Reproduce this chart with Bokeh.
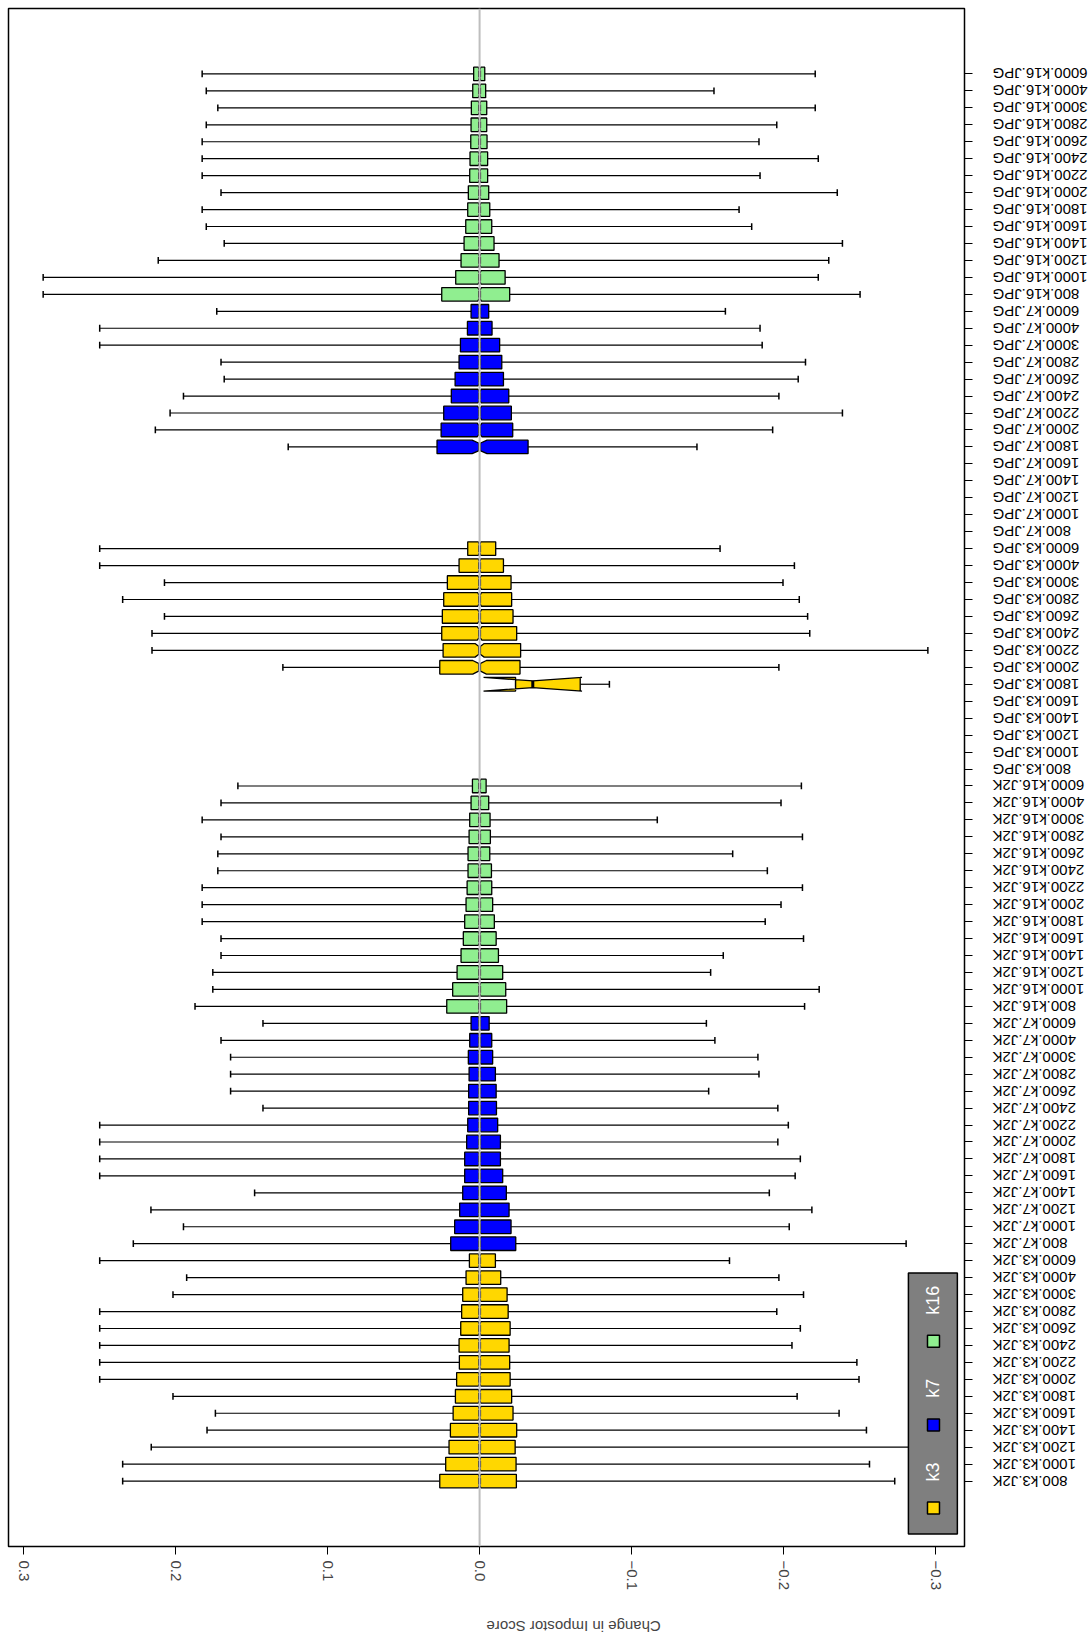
import math
from bokeh.plotting import figure
from bokeh.layouts import row
from bokeh.models import Range1d, FixedTicker, Span, ColumnDataSource
from bokeh.core.properties import value
from bokeh.embed import file_html
from bokeh.resources import INLINE

# ---------------- data ----------------
sizes = [800, 1000, 1200, 1400, 1600, 1800, 2000, 2200, 2400, 2600, 2800, 3000, 4000, 6000]
kvals = ["k3", "k7", "k16"]
formats = ["J2K", "JPG"]
group_colors = {"k3": "#FFD700", "k7": "#0000FF", "k16": "#90EE90"}
x_ticks = [-0.3, -0.2, -0.1, 0.0, 0.1, 0.2, 0.3]
x_tick_labels = ["\u22120.3", "\u22120.2", "\u22120.1", "0.0", "0.1", "0.2", "0.3"]
legend_labels = ["k3", "k7", "k16"]
N = None

# order of rows: J2K k3, J2K k7, J2K k16, JPG k3, JPG k7, JPG k16 (sizes 800 ... 6000)
upper_whisker = [
    0.2348, 0.2348, 0.2160, 0.1793, 0.1738, 0.2017, 0.2499, 0.2499, 0.2499, 0.2499, 0.2499, 0.2017, 0.1927, 0.2499,
    0.2278, 0.1948, 0.2162, 0.1480, 0.2499, 0.2499, 0.2499, 0.2499, 0.1425, 0.1638, 0.1638, 0.1638, 0.1701, 0.1425,
    0.1872, 0.1755, 0.1755, 0.1701, 0.1701, 0.1825, 0.1825, 0.1825, 0.1722, 0.1722, 0.1701, 0.1825, 0.1701, 0.1590,
    N, N, N, N, N, -0.0237, 0.1294, 0.2155, 0.2155, 0.2073, 0.2348, 0.2073, 0.2499, 0.2499,
    N, N, N, N, N, 0.1259, 0.2133, 0.2036, 0.1948, 0.1680, 0.1701, 0.2499, 0.2499, 0.1729,
    0.2871, 0.2871, 0.2114, 0.1680, 0.1798, 0.1825, 0.1701, 0.1825, 0.1825, 0.1825, 0.1798, 0.1722, 0.1798, 0.1825,
]
upper_hinge = [
    0.0262, 0.0223, 0.0201, 0.0192, 0.0174, 0.0159, 0.0151, 0.0133, 0.0135, 0.0124, 0.0118, 0.0111, 0.0089, 0.0067,
    0.0190, 0.0164, 0.0131, 0.0111, 0.0098, 0.0098, 0.0085, 0.0078, 0.0072, 0.0072, 0.0069, 0.0074, 0.0065, 0.0056,
    0.0216, 0.0177, 0.0148, 0.0122, 0.0107, 0.0098, 0.0089, 0.0082, 0.0076, 0.0076, 0.0069, 0.0065, 0.0056, 0.0047,
    N, N, N, N, N, -0.0237, 0.0262, 0.0240, 0.0249, 0.0245, 0.0236, 0.0212, 0.0135, 0.0078,
    N, N, N, N, N, 0.0280, 0.0253, 0.0236, 0.0186, 0.0161, 0.0135, 0.0126, 0.0080, 0.0056,
    0.0249, 0.0157, 0.0122, 0.0102, 0.0091, 0.0078, 0.0074, 0.0065, 0.0063, 0.0058, 0.0056, 0.0054, 0.0045, 0.0039,
]
medians = [
    0.0, 0.0, 0.0, 0.0, 0.0, 0.0, 0.0, 0.0, 0.0, 0.0, 0.0, 0.0, 0.0, 0.0,
    0.0, 0.0, 0.0, 0.0, 0.0, 0.0, 0.0, 0.0, 0.0, 0.0, 0.0, 0.0, 0.0, 0.0,
    0.0, 0.0, 0.0, 0.0, 0.0, 0.0, 0.0, 0.0, 0.0, 0.0, 0.0, 0.0, 0.0, 0.0,
    N, N, N, N, N, -0.0350, 0.0, 0.0, 0.0, 0.0, 0.0, 0.0, 0.0, 0.0,
    N, N, N, N, N, 0.0, 0.0, 0.0, 0.0, 0.0, 0.0, 0.0, 0.0, 0.0,
    0.0, 0.0, 0.0, 0.0, 0.0, 0.0, 0.0, 0.0, 0.0, 0.0, 0.0, 0.0, 0.0, 0.0,
]
lower_hinge = [
    -0.0242, -0.0240, -0.0234, -0.0244, -0.0220, -0.0211, -0.0201, -0.0198, -0.0194, -0.0201, -0.0188, -0.0181, -0.0139, -0.0104,
    -0.0238, -0.0207, -0.0194, -0.0176, -0.0152, -0.0137, -0.0137, -0.0119, -0.0111, -0.0109, -0.0104, -0.0086, -0.0080, -0.0063,
    -0.0178, -0.0172, -0.0152, -0.0124, -0.0109, -0.0097, -0.0086, -0.0080, -0.0078, -0.0067, -0.0071, -0.0069, -0.0060, -0.0043,
    N, N, N, N, N, -0.0662, -0.0266, -0.0270, -0.0244, -0.0220, -0.0211, -0.0207, -0.0157, -0.0106,
    N, N, N, N, N, -0.0319, -0.0218, -0.0209, -0.0192, -0.0157, -0.0146, -0.0132, -0.0082, -0.0060,
    -0.0198, -0.0168, -0.0128, -0.0095, -0.0080, -0.0067, -0.0060, -0.0053, -0.0053, -0.0049, -0.0047, -0.0047, -0.0040, -0.0034,
]
lower_whisker = [
    -0.2731, -0.2565, -0.2900, -0.2545, -0.2365, -0.2089, -0.2496, -0.2482, -0.2055, -0.2110, -0.1955, -0.2131, -0.1969, -0.1644,
    -0.2806, -0.2037, -0.2186, -0.1906, -0.2076, -0.2110, -0.1962, -0.2031, -0.1962, -0.1507, -0.1838, -0.1831, -0.1548, -0.1492,
    -0.2138, -0.2234, -0.1520, -0.1603, -0.2131, -0.1879, -0.1983, -0.2124, -0.1893, -0.1665, -0.2124, -0.1169, -0.1983, -0.2117,
    N, N, N, N, N, -0.0854, -0.1969, -0.2949, -0.2172, -0.2158, -0.2103, -0.1996, -0.2071, -0.1582,
    N, N, N, N, N, -0.1430, -0.1928, -0.2387, -0.1969, -0.2096, -0.2144, -0.1859, -0.1845, -0.1617,
    -0.2503, -0.2228, -0.2297, -0.2387, -0.1790, -0.1707, -0.2353, -0.1845, -0.2228, -0.1838, -0.1955, -0.2208, -0.1542, -0.2208,
]
# half-width of the median notch (1.58 * IQR / sqrt(n))
notch_halfwidth = [
    0.0008, 0.0008, 0.0008, 0.0008, 0.0008, 0.0008, 0.0008, 0.0008, 0.0008, 0.0008, 0.0008, 0.0008, 0.0008, 0.0008,
    0.0008, 0.0008, 0.0008, 0.0008, 0.0008, 0.0008, 0.0008, 0.0008, 0.0008, 0.0008, 0.0008, 0.0008, 0.0008, 0.0008,
    0.0008, 0.0008, 0.0008, 0.0008, 0.0008, 0.0008, 0.0008, 0.0008, 0.0008, 0.0008, 0.0008, 0.0008, 0.0008, 0.0008,
    N, N, N, N, N, 0.0324, 0.0045, 0.0030, 0.0015, 0.0012, 0.0012, 0.0010, 0.0008, 0.0008,
    N, N, N, N, N, 0.0049, 0.0015, 0.0012, 0.0010, 0.0010, 0.0008, 0.0008, 0.0008, 0.0008,
    0.0012, 0.0010, 0.0008, 0.0008, 0.0008, 0.0008, 0.0008, 0.0008, 0.0008, 0.0008, 0.0008, 0.0008, 0.0008, 0.0008,
]

categories = [f"{s}.{k}.{f}" for f in formats for k in kvals for s in sizes]
cat_colors = [group_colors[k] for f in formats for k in kvals for s in sizes]
positions = list(range(1, len(categories) + 1))

FONT = "Liberation Sans"
W = 0.4          # half box width (boxwex 0.8)
STAPLE = 0.2     # half staple length
X_LO, X_HI = -0.319, 0.3099
TOP, FRAME_H, BOTTOM = 8, 1538, 94
MAIN_RIGHT = 14
LABEL_W = 1088 - (8 + 956 + MAIN_RIGHT)

p = figure(
    output_backend="svg", toolbar_location=None,
    frame_width=956, frame_height=FRAME_H,
    min_border_left=8, min_border_top=TOP, min_border_right=MAIN_RIGHT, min_border_bottom=BOTTOM,
    x_range=Range1d(X_HI, X_LO), y_range=Range1d(-2.86, 87.86),
    y_axis_location="right",
    background_fill_color="white", border_fill_color="white",
)
p.grid.visible = False
p.outline_line_color = "black"
p.outline_line_width = 1.5

# ---- boxes (notched, like R's boxplot) ----
bx, by, bc = [], [], []
mx0, my0, my1 = [], [], []
wx0, wx1, wy = [], [], []
sx, sy0, sy1 = [], [], []
for i, ypos in enumerate(positions):
    q3 = upper_hinge[i]
    if q3 is None:
        continue
    q1, med, n = lower_hinge[i], medians[i], notch_halfwidth[i]
    c1, c2 = med - n, med + n
    bx.append([q1, q1, c1, med, c2, q3, q3, c2, med, c1])
    by.append([ypos - W, ypos + W, ypos + W, ypos + W / 2, ypos + W, ypos + W,
               ypos - W, ypos - W, ypos - W / 2, ypos - W])
    bc.append(cat_colors[i])
    mx0.append(med); my0.append(ypos - W / 2); my1.append(ypos + W / 2)
    for a, b in ((q3, upper_whisker[i]), (q1, lower_whisker[i])):
        wx0.append(a); wx1.append(b); wy.append(ypos)
        sx.append(b); sy0.append(ypos - STAPLE); sy1.append(ypos + STAPLE)

p.segment(x0=wx0, y0=wy, x1=wx1, y1=wy, line_color="black", line_width=1.2)
p.segment(x0=sx, y0=sy0, x1=sx, y1=sy1, line_color="black", line_width=1.5)
p.patches(xs=bx, ys=by, fill_color=bc, line_color="black", line_width=1.3)
p.segment(x0=mx0, y0=my0, x1=mx0, y1=my1, line_color="black", line_width=3)

p.add_layout(Span(location=0, dimension="height", line_color="#BEBEBE", line_width=2))

# ---- legend (grey box, rotated labels) ----
p.quad(left=[-0.2821], right=[-0.3143], bottom=[-2.13], top=[13.27],
       fill_color="#7F7F7F", line_color="black", line_width=1.5)
leg_src = ColumnDataSource(dict(x=[-0.2986] * 3, ys=[-0.59, 4.30, 9.25], yt=[1.53, 6.48, 11.67],
                                c=[group_colors[k] for k in legend_labels], t=legend_labels))
p.scatter(x="x", y="ys", source=leg_src, marker="square", size=12, fill_color="c",
          line_color="black", line_width=1.5)
p.text(x="x", y="yt", text="t", source=leg_src, angle=math.pi / 2, text_color="white",
       text_font=value(FONT), text_font_size="18px", text_align="center", text_baseline="middle")

# ---- axes ----
xa = p.xaxis[0]
xa.ticker = FixedTicker(ticks=x_ticks)
xa.major_label_overrides = {t: l for t, l in zip(x_ticks, x_tick_labels)}
xa.major_label_orientation = "vertical"
xa.major_label_text_font = FONT
xa.major_label_text_font_size = "15px"
xa.major_label_standoff = 6
xa.major_tick_out = 8
xa.major_tick_in = 0
xa.minor_tick_line_color = None
xa.axis_line_color = "black"
xa.axis_label = "Change in Impostor Score"
xa.axis_label_text_font = FONT
xa.axis_label_text_font_size = "15px"
xa.axis_label_text_font_style = "normal"
xa.axis_label_standoff = 33
try:
    xa.axis_label_orientation = math.pi
except AttributeError:
    pass

ya = p.yaxis[0]
ya.ticker = FixedTicker(ticks=positions)
ya.major_label_overrides = {pos: "" for pos in positions}
ya.major_label_standoff = 0
ya.major_tick_out = 8
ya.major_tick_in = 0
ya.minor_tick_line_color = None
ya.axis_line_color = "black"

# ---- category labels (upside down, like the reference) in a strip sharing the y range ----
q = figure(
    output_backend="svg", toolbar_location=None,
    frame_width=LABEL_W, frame_height=FRAME_H,
    min_border_left=0, min_border_right=0, min_border_top=TOP, min_border_bottom=BOTTOM,
    x_range=Range1d(0, LABEL_W), y_range=p.y_range,
    x_axis_location=None, y_axis_location=None,
    background_fill_color="white", border_fill_color="white",
)
q.grid.visible = False
q.outline_line_color = None
cat_src = ColumnDataSource(dict(x=[MAIN_RIGHT] * len(categories), y=positions, t=categories))
q.text(x="x", y="y", text="t", source=cat_src, angle=math.pi,
       text_align="right", text_baseline="middle", text_font=value(FONT),
       text_font_size="15px", text_color="black")

layout = row(p, q, spacing=0)
open("out.html", "w").write(file_html(layout, INLINE))
